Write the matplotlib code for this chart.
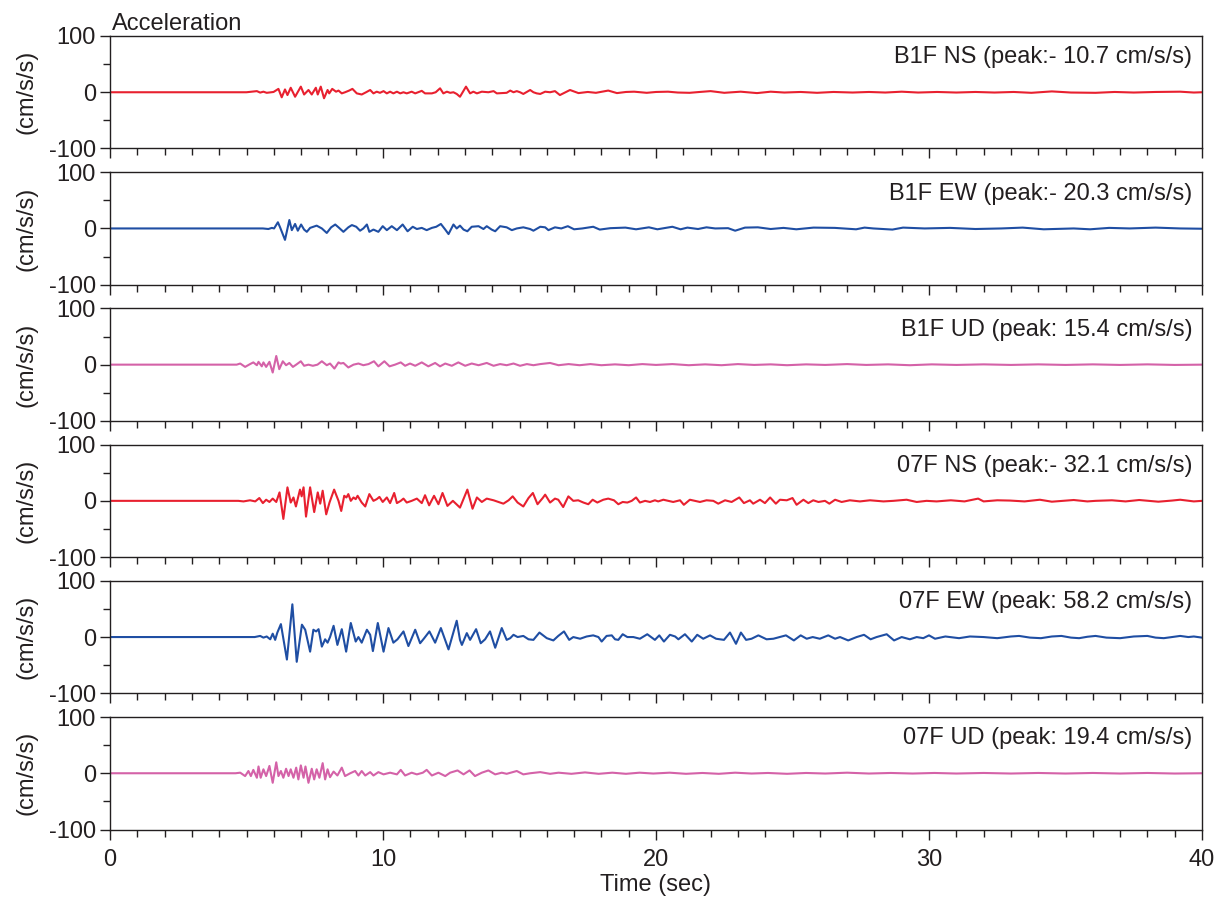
import numpy as np
import matplotlib
matplotlib.use("Agg")
import matplotlib.pyplot as plt
from matplotlib.ticker import MultipleLocator

plt.rcParams['font.family'] = ['Liberation Sans', 'DejaVu Sans']
plt.rcParams['axes.unicode_minus'] = False

# (time sec, acceleration cm/s/s) read at the turning points of each trace
b1f_ns = [(0, 0), (5.0, 0), (5.38, 2), (5.50, -0.6), (5.62, 1), (5.74, -1), (5.99, 0.5), (6.17, 6), (6.29, -9),
          (6.41, 5), (6.50, -5), (6.62, 8), (6.78, -8), (6.99, 10), (7.11, -4), (7.27, 4), (7.39, -4), (7.54, 8),
          (7.61, -4), (7.72, 10), (7.84, -10.7), (7.97, 4), (8.03, -2), (8.14, 6), (8.28, 1), (8.37, 3), (8.49, -2),
          (8.61, 0), (8.76, 3), (8.88, 6), (9.04, -2), (9.22, -4), (9.38, 0), (9.53, 4), (9.65, -2), (9.77, 1),
          (9.89, -1), (10.02, 2), (10.14, -2), (10.26, 1), (10.38, -2), (10.51, 1), (10.63, -2), (10.75, 0),
          (10.87, -2), (11.05, 1), (11.18, -2), (11.42, 2.5), (11.54, -2), (11.79, -2), (11.93, 0), (12.09, 7),
          (12.21, -2), (12.34, 1), (12.46, -1), (12.58, 0), (12.70, -3), (12.82, -8), (13.04, 10), (13.19, -2),
          (13.31, 1), (13.44, -2), (13.62, 1), (13.86, 0), (14.05, 2), (14.17, -2), (14.53, -1), (14.66, 3),
          (14.78, 0), (14.90, 2), (15.02, 0), (15.14, -3), (15.39, 4), (15.51, 0), (15.63, -2), (15.76, -3),
          (15.94, 1), (16.12, 0), (16.30, 2), (16.48, -5), (16.85, 4), (17.16, -1.5), (17.5, 0.5), (17.8, -1),
          (18.25, 3), (18.57, -1.5), (18.9, 0.5), (19.2, 1), (19.66, -1), (20.0, 0.5), (20.44, 1), (20.8, -0.5),
          (21.23, -1), (21.6, 0.5), (22.0, 2), (22.5, -1), (22.8, 0), (23.1, 1), (23.7, -1.5), (24.2, 1),
          (24.7, -0.5), (25.3, 0.5), (25.9, -1), (26.5, 0.5), (27.2, -0.5), (27.8, 0.5), (28.4, -0.5), (29.0, 1),
          (29.6, -0.5), (30.3, 0.5), (31.0, -0.5), (31.7, 0.5), (32.4, -0.5), (33.1, 0.5), (33.75, -1), (34.5, 1.5),
          (35.2, -0.5), (36.1, -1), (36.8, 0.5), (37.5, -0.5), (38.3, 0.5), (39.2, 1), (39.7, -0.5), (40, 0)]

b1f_ew = [(0, 0), (5.6, 0), (5.80, -1), (5.93, 1), (6.01, 0), (6.15, 11), (6.23, 2), (6.41, -20.3), (6.57, 15),
          (6.66, -3), (6.78, 8), (6.88, -4), (7.00, 7), (7.11, -2), (7.21, -6), (7.33, 1), (7.57, 5), (7.76, 0),
          (7.94, -8), (8.10, 2), (8.25, 7), (8.37, 2), (8.55, -6), (8.73, 2), (8.86, 6), (9.02, 3), (9.16, -4),
          (9.28, 0), (9.41, 7), (9.50, -6), (9.65, -2), (9.83, -6), (9.99, 4), (10.14, -3), (10.32, 4), (10.51, -3),
          (10.72, 7), (10.90, -5), (11.09, 3), (11.24, -1), (11.42, 1), (11.60, -3), (11.79, 1), (11.95, 3),
          (12.12, 8), (12.28, -2), (12.40, -10), (12.58, 7), (12.70, 0), (12.82, 5), (12.95, -2), (13.09, -5),
          (13.25, 3), (13.50, 4), (13.68, -1), (13.80, 4), (13.98, -2), (14.11, -5), (14.29, 4), (14.53, 2),
          (14.72, -3), (14.90, 0), (15.14, 2), (15.39, -1), (15.51, -4), (15.76, 3), (15.94, 2), (16.06, -3),
          (16.3, 2), (16.53, 0), (16.77, 4), (17.0, -1.5), (17.3, 0), (17.7, 3), (17.94, -2), (18.33, 0.5),
          (18.88, 1.5), (19.27, -1.5), (19.74, 2), (20.05, -1.5), (20.6, 3), (20.9, -1.5), (21.15, 1.5),
          (21.54, -1), (21.85, 2), (22.17, 0), (22.64, 0.5), (22.9, -4), (23.26, 1.5), (23.73, 2), (24.2, -1),
          (24.67, 1), (25.14, -1.5), (25.77, 1.5), (26.55, 1), (27.33, -1.5), (27.64, 1.5), (27.96, 0),
          (28.66, -2), (29.05, 1.5), (29.84, 0), (30.77, 1), (31.7, -1), (32.65, 0), (33.43, 1.5), (34.2, -1.5),
          (35.3, 0), (35.9, -1.5), (36.6, 1), (37.35, 0), (38.3, 1.5), (39.2, 0), (40, -0.5)]

b1f_ud = [(0, 0), (4.5, 0), (4.64, 0), (4.77, 2), (4.95, -4), (5.13, 1), (5.25, 4), (5.38, -1), (5.44, 5),
          (5.56, -3), (5.62, 4), (5.72, -4), (5.84, 5), (5.96, -14), (6.09, 15.4), (6.20, -8), (6.33, 6),
          (6.45, -1), (6.57, 3), (6.70, -4), (6.82, 0), (6.99, 6), (7.11, -2), (7.27, 0), (7.43, -2), (7.60, 0),
          (7.76, 6), (7.94, -1), (8.06, 2), (8.22, -7), (8.37, 4), (8.45, 2), (8.55, 3), (8.73, -5), (8.92, 0),
          (9.10, 2), (9.28, -1), (9.47, 1), (9.67, 6), (9.83, -3), (10.05, 6), (10.24, -3), (10.44, 0),
          (10.65, 4), (10.81, -2), (10.99, 2), (11.18, -2), (11.42, 4), (11.66, -3), (11.91, 3), (12.09, -3),
          (12.28, 2), (12.52, -2), (12.76, 4), (13.01, -2), (13.25, 2), (13.50, -1), (13.80, 3), (14.05, -2),
          (14.29, 1), (14.53, -1), (14.78, 2), (15.02, -2), (15.27, 1), (15.51, -1), (15.76, 1), (16.12, 3),
          (16.43, -1), (16.8, 1), (17.2, -1), (17.6, 1), (18.0, -1), (18.5, 0.5), (19.0, -1), (19.5, 1),
          (20.0, -0.5), (20.6, 1), (21.2, -1), (21.8, 0.5), (22.4, -1), (23.0, 1), (23.6, -0.5), (24.2, 0.5),
          (24.8, -1), (25.5, 0.5), (26.2, -0.5), (27.0, 1), (27.7, -0.5), (28.5, 0.5), (29.3, -1), (30.1, 0.5),
          (31.0, -0.5), (32.0, 0.5), (33.0, -0.5), (34.0, 0.5), (35.0, -0.5), (36.0, 0.5), (37.0, -0.5),
          (38.0, 0.5), (39.0, -0.5), (40, 0)]

f07_ns = [(0, 0), (4.7, 0), (4.89, -1), (5.13, 1), (5.32, -1), (5.47, 5), (5.60, -4), (5.72, 2), (5.84, -2),
          (5.96, 4), (6.09, -2), (6.21, 15), (6.35, -32.1), (6.50, 24), (6.62, -3), (6.72, 6), (6.81, -10),
          (6.96, 20), (7.02, 8), (7.09, 24), (7.18, -28), (7.33, 24), (7.48, -20), (7.61, 15), (7.70, -5),
          (7.79, 18), (7.92, -24), (8.04, -3), (8.21, 20), (8.37, 0), (8.47, -18), (8.58, 9), (8.66, 6),
          (8.73, 12), (8.82, 0), (8.92, 6), (9.00, 3), (9.07, 9), (9.22, -3), (9.35, -10), (9.50, 12), (9.65, 0),
          (9.77, 3), (9.87, 7), (9.99, -2), (10.14, 6), (10.26, -4), (10.41, 14), (10.51, -4), (10.65, 0),
          (10.75, 4), (10.87, -3), (11.05, 0), (11.24, 4), (11.42, -4), (11.54, 10), (11.69, -8), (11.87, 9),
          (12.03, -6), (12.18, 14), (12.36, -9), (12.56, 0), (12.82, -12), (13.09, 20), (13.28, -14), (13.44, 6),
          (13.62, -2), (13.80, 4), (14.05, 1), (14.23, -2), (14.41, -5), (14.60, 1), (14.75, 8), (14.93, -3),
          (15.14, -10), (15.33, 5), (15.49, 14), (15.66, -6), (15.85, 5), (15.94, 11), (16.12, -3), (16.30, 4),
          (16.42, 2), (16.6, -11), (16.79, 8), (16.97, 0), (17.15, 1), (17.34, -3), (17.52, -6), (17.68, 2),
          (17.85, -3), (18.07, 2), (18.25, 4), (18.46, 1), (18.62, -6), (18.78, -2), (18.95, -3), (19.11, 0),
          (19.27, 6), (19.41, -3), (19.6, 0), (19.78, -2), (19.96, 1), (20.08, -1), (20.27, 2), (20.45, 0),
          (20.63, -2), (20.88, 1), (21.02, -7), (21.24, 2), (21.43, 0), (21.61, -2), (21.85, 1), (22.1, 0),
          (22.28, -5), (22.53, 1), (22.77, -2), (23.05, 6), (23.22, -4), (23.44, 1), (23.56, -5), (23.81, 2),
          (23.99, -4), (24.18, 6), (24.39, -5), (24.54, 2), (24.79, 1), (25.0, 5), (25.15, -7), (25.4, 2),
          (25.58, -4), (25.76, 1), (25.95, -2), (26.19, 0), (26.35, -5), (26.56, 2), (26.8, -2), (27.1, 1),
          (27.47, -1), (27.84, 1), (28.33, -1), (28.69, 0), (29.18, 2), (29.55, -2), (29.91, 0), (30.28, -1),
          (30.8, 1), (31.3, -1), (31.8, 4), (32.0, -1), (32.5, 1), (32.97, 0.5), (33.5, -1), (34.06, 2),
          (34.5, -1.5), (35.3, 1.5), (35.8, -1), (36.1, 0), (36.7, 1), (37.2, -1), (37.7, 1.5), (38.4, -1.5),
          (38.9, 0.5), (39.2, 2), (39.7, -1), (40, 0)]

f07_ew = [(0, 0), (5.3, 0), (5.50, 2), (5.62, -1), (5.74, 1), (5.87, -4), (5.96, 6), (6.05, -5), (6.13, 8),
          (6.26, 23), (6.48, -40), (6.68, 58.2), (6.84, -44), (7.03, 22), (7.15, 13), (7.33, -26), (7.45, 13),
          (7.55, 10), (7.64, 14), (7.76, -17), (7.88, -4), (7.97, -10), (8.06, 0), (8.19, 20), (8.33, -14),
          (8.49, 14), (8.65, -26), (8.82, 25), (9.00, -8), (9.10, 0), (9.22, -10), (9.41, 13), (9.53, 4),
          (9.63, -25), (9.81, 25), (10.02, -26), (10.20, 16), (10.38, -10), (10.53, -4), (10.75, 10),
          (10.93, -16), (11.18, 13), (11.36, -11), (11.51, -2), (11.70, 10), (11.85, -4), (11.91, -10),
          (12.12, 16), (12.40, -22), (12.70, 29), (12.82, -5), (12.89, -14), (13.07, 7), (13.19, -5), (13.41, 14),
          (13.58, -11), (13.74, -4), (13.92, 10), (14.11, -19), (14.35, 16), (14.53, -5), (14.66, -2), (14.78, 4),
          (14.93, 0), (15.14, 2), (15.33, -4), (15.51, -5), (15.73, 8), (16.0, -2), (16.24, -6), (16.42, 2),
          (16.63, 10), (16.82, -5), (16.97, 0), (17.22, -3), (17.46, 1), (17.7, 3), (17.89, 0), (18.01, -8),
          (18.19, 2), (18.38, 3), (18.5, -4), (18.62, -5), (18.78, 5), (18.95, 0), (19.17, 0), (19.41, -3),
          (19.68, 5), (19.96, -5), (20.12, 3), (20.29, -8), (20.51, 4), (20.7, 1), (20.82, -4), (21.06, 5),
          (21.31, -8), (21.51, 4), (21.73, -3), (21.98, 3), (22.2, -3), (22.49, -5), (22.71, 8), (22.93, -12),
          (23.11, 8), (23.3, -5), (23.5, -3), (23.75, 3), (24.05, -4), (24.3, -3), (24.76, 3), (25.05, -6),
          (25.3, 3), (25.52, -3), (25.74, 0), (26.0, -3), (26.31, 3), (26.56, -3), (26.74, 0), (27.04, -6),
          (27.35, 0), (27.62, 4), (27.86, -4), (28.08, 0), (28.45, 5), (28.72, -6), (29.0, 0), (29.3, -4),
          (29.55, 0), (29.79, -2), (30.0, 3), (30.22, -3), (30.6, 1), (31.1, -2), (31.5, 1), (32.0, 0),
          (32.5, -2), (33.0, 1), (33.3, 2), (33.7, -1), (34.1, -2), (34.5, 1), (34.85, 2), (35.2, -1), (35.5, -2),
          (35.8, 0.5), (36.1, 2), (36.5, -1), (37.0, -2), (37.5, 1), (38.0, 2), (38.3, -1), (38.6, -2),
          (39.2, 2), (39.5, 0), (39.7, 1), (40, -1)]

f07_ud = [(0, 0), (4.6, 0), (4.77, 1), (4.95, -5), (5.07, 4), (5.16, -5), (5.25, 6), (5.38, -8), (5.44, 12),
          (5.52, -8), (5.62, 7), (5.72, -5), (5.84, 13), (5.96, -17), (6.09, 19.4), (6.17, -5), (6.26, 4),
          (6.35, -8), (6.45, 8), (6.54, -5), (6.62, 7), (6.72, -8), (6.82, 10), (6.90, -11), (6.99, 14),
          (7.09, -8), (7.16, 12), (7.27, -17), (7.39, 8), (7.48, -11), (7.57, 7), (7.67, -8), (7.79, 18),
          (7.88, -11), (7.97, 7), (8.06, -7), (8.19, 3), (8.33, -4), (8.49, 10), (8.61, -5), (8.80, 0), (8.98, 4),
          (9.10, -4), (9.22, 4), (9.35, -4), (9.53, 2), (9.65, -4), (9.83, 2), (10.02, -2), (10.26, 1),
          (10.51, -2), (10.65, 6), (10.81, -4), (11.05, 1), (11.24, -2), (11.46, 1), (11.60, 6), (11.79, -4),
          (12.03, 1), (12.28, -5), (12.46, 1), (12.73, 5), (12.95, -2), (13.17, 5), (13.37, -5), (13.62, 1),
          (13.86, 5), (14.11, -2), (14.35, 1), (14.53, -1), (14.90, 4), (15.14, -2), (15.39, 0), (15.76, 2),
          (16.12, -1), (16.43, 1), (16.9, -1), (17.4, 1.5), (17.9, -1), (18.4, 1), (18.9, -1), (19.4, 1),
          (19.9, -0.5), (20.5, 1), (21.1, -1), (21.7, 0.5), (22.3, -1), (22.9, 1), (23.5, -0.5), (24.1, 0.5),
          (24.8, -1), (25.5, 0.5), (26.2, -0.5), (27.0, 1), (27.8, -0.5), (28.6, 0.5), (29.4, -0.5), (30.2, 0.5),
          (31.0, -0.5), (32.0, 0.5), (33.0, -0.5), (34.0, 0.5), (35.0, -0.5), (36.0, 0.5), (37.0, -0.5),
          (38.0, 0.5), (39.0, -0.5), (40, 0)]

traces = [b1f_ns, b1f_ew, b1f_ud, f07_ns, f07_ew, f07_ud]
labels = ["B1F NS (peak:- 10.7 cm/s/s)", "B1F EW (peak:- 20.3 cm/s/s)", "B1F UD (peak: 15.4 cm/s/s)",
          "07F NS (peak:- 32.1 cm/s/s)", "07F EW (peak: 58.2 cm/s/s)", "07F UD (peak: 19.4 cm/s/s)"]
colors = ["#e8202f", "#1f4ea3", "#d462a8", "#e8202f", "#1f4ea3", "#d462a8"]

W, H = 1216, 897
fig = plt.figure(figsize=(W / 100, H / 100), dpi=100)
ink = "#231f20"
fs = 17

left, right = 110, 1202
for i, (tr, lab, col) in enumerate(zip(traces, labels, colors)):
    top = 36 + 136.2 * i
    h = 112.5
    ax = fig.add_axes([left / W, 1 - (top + h) / H, (right - left) / W, h / H])
    t, a = np.array(tr).T
    ax.plot(t, a, color=col, lw=1.5)
    ax.set_xlim(0, 40)
    ax.set_ylim(-100, 100)
    ax.set_yticks([-100, 0, 100])
    ax.yaxis.set_minor_locator(MultipleLocator(50))
    ax.set_xticks([0, 10, 20, 30, 40])
    ax.xaxis.set_minor_locator(MultipleLocator(1))
    ax.tick_params(which='major', direction='out', length=7, width=1, color=ink, labelsize=fs,
                   labelcolor=ink, pad=3)
    ax.tick_params(axis='x', which='major', pad=7)
    ax.tick_params(which='minor', direction='out', length=5, width=1, color=ink)
    for s in ax.spines.values():
        s.set_color(ink)
        s.set_linewidth(1.0)
    if i < 5:
        ax.tick_params(labelbottom=False)
    ax.set_ylabel("(cm/s/s)", fontsize=fs, color=ink)
    ax.yaxis.set_label_coords(-0.066, 0.5)
    ax.text(0.991, 0.81, lab, transform=ax.transAxes, ha='right', va='center', fontsize=fs, color=ink)
    if i == 0:
        ax.text(0.002, 1.005, "Acceleration", transform=ax.transAxes, ha='left', va='bottom', fontsize=fs, color=ink)
    if i == 5:
        ax.set_xlabel("Time (sec)", fontsize=fs, color=ink, labelpad=2)

fig.savefig("out.png", dpi=100)
